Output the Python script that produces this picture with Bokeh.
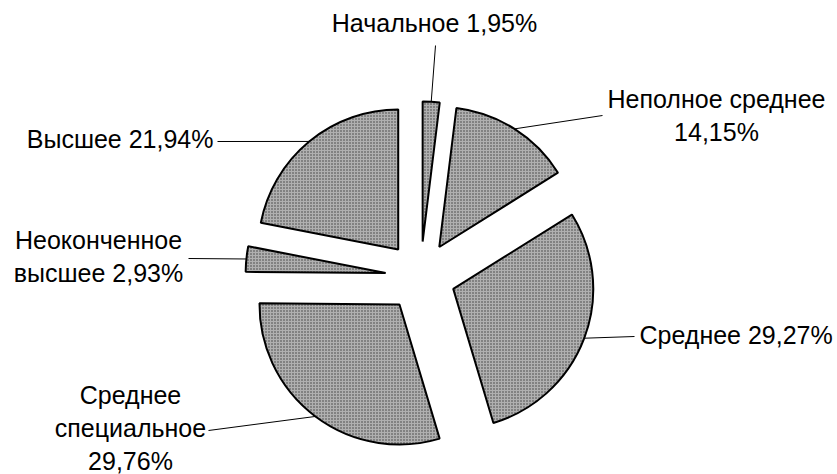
import math
from bokeh.plotting import figure
from bokeh.models import Range1d
from bokeh.core.properties import value
from bokeh.embed import file_html
from bokeh.resources import INLINE

# ---- data ----
categories = ["Начальное", "Неполное среднее", "Среднее",
              "Среднее специальное", "Неоконченное высшее", "Высшее"]
shares = [1.95, 14.15, 29.27, 29.76, 2.93, 21.94]
label_texts = ["Начальное 1,95%", "Неполное среднее\n14,15%", "Среднее 29,27%",
               "Среднее\nспециальное\n29,76%", "Неоконченное\nвысшее 2,93%", "Высшее 21,94%"]

# ---- layout (window pixel space) ----
W, H = 837, 474
R_PX = 140.0            # pie radius in px
CX_PX, CY_PX = 420.0, 276.0   # pie centre in window px
EXPLODE = 0.25          # explode distance as fraction of radius
LINE_GAP = 33
TEXT_DY = 10            # compensation for baseline placement

def to_data(X, Y):
    return (X - CX_PX) / R_PX, (CY_PX - Y) / R_PX

# label anchor: (x, first baseline y, align, leader start x, leader start y)
label_layout = [
    (434, 32, "center", 435, 45),
    (716, 108, "center", 602, 115),
    (639, 344, "left", 634, 336),
    (130, 404, "center", 208, 430),
    (98, 249, "center", 188, 258),
    (213, 148, "right", 217, 141),
]

p = figure(width=W, height=H, output_backend="svg", toolbar_location=None,
           x_axis_location=None, y_axis_location=None, min_border=0,
           x_range=Range1d((0 - CX_PX) / R_PX, (W - CX_PX) / R_PX),
           y_range=Range1d((CY_PX - H) / R_PX, CY_PX / R_PX))
p.grid.visible = False
p.outline_line_color = None
p.background_fill_color = "white"
p.border_fill_color = "white"

total = sum(shares)
cum = 0.0
xs, ys, starts, ends, mids = [], [], [], [], []
for s in shares:
    t1 = cum / total * 2 * math.pi          # clockwise from top
    t2 = (cum + s) / total * 2 * math.pi
    tm = (t1 + t2) / 2
    cum += s
    ox, oy = EXPLODE * math.sin(tm), EXPLODE * math.cos(tm)
    xs.append(ox)
    ys.append(oy)
    starts.append(math.pi / 2 - t2)
    ends.append(math.pi / 2 - t1)
    mids.append(tm)

p.wedge(x=xs, y=ys, radius=1.0, start_angle=starts, end_angle=ends,
        direction="anticlock", fill_color="#b0b0b0", line_color="black",
        line_width=2, hatch_pattern="dot", hatch_color="#3a3a3a",
        hatch_scale=3, hatch_weight=1)

# leader lines from label to arc midpoint
lx0, ly0, lx1, ly1 = [], [], [], []
for i, lay in enumerate(label_layout):
    sx, sy = to_data(lay[3], lay[4])
    ex = xs[i] + math.sin(mids[i])
    ey = ys[i] + math.cos(mids[i])
    lx0.append(sx); ly0.append(sy); lx1.append(ex); ly1.append(ey)
p.segment(x0=lx0, y0=ly0, x1=lx1, y1=ly1, line_color="black", line_width=1)

for i, lay in enumerate(label_layout):
    lines = label_texts[i].split("\n")
    tx, ty, tys = [], [], []
    for j, ln in enumerate(lines):
        dx, dy = to_data(lay[0], lay[1] + j * LINE_GAP - TEXT_DY)
        tx.append(dx); ty.append(dy); tys.append(ln)
    p.text(x=tx, y=ty, text=tys, text_font=value("Liberation Sans"),
           text_font_size="25px", text_align=lay[2], text_baseline="alphabetic",
           text_color="black")

open("out.html", "w").write(file_html(p, INLINE))
